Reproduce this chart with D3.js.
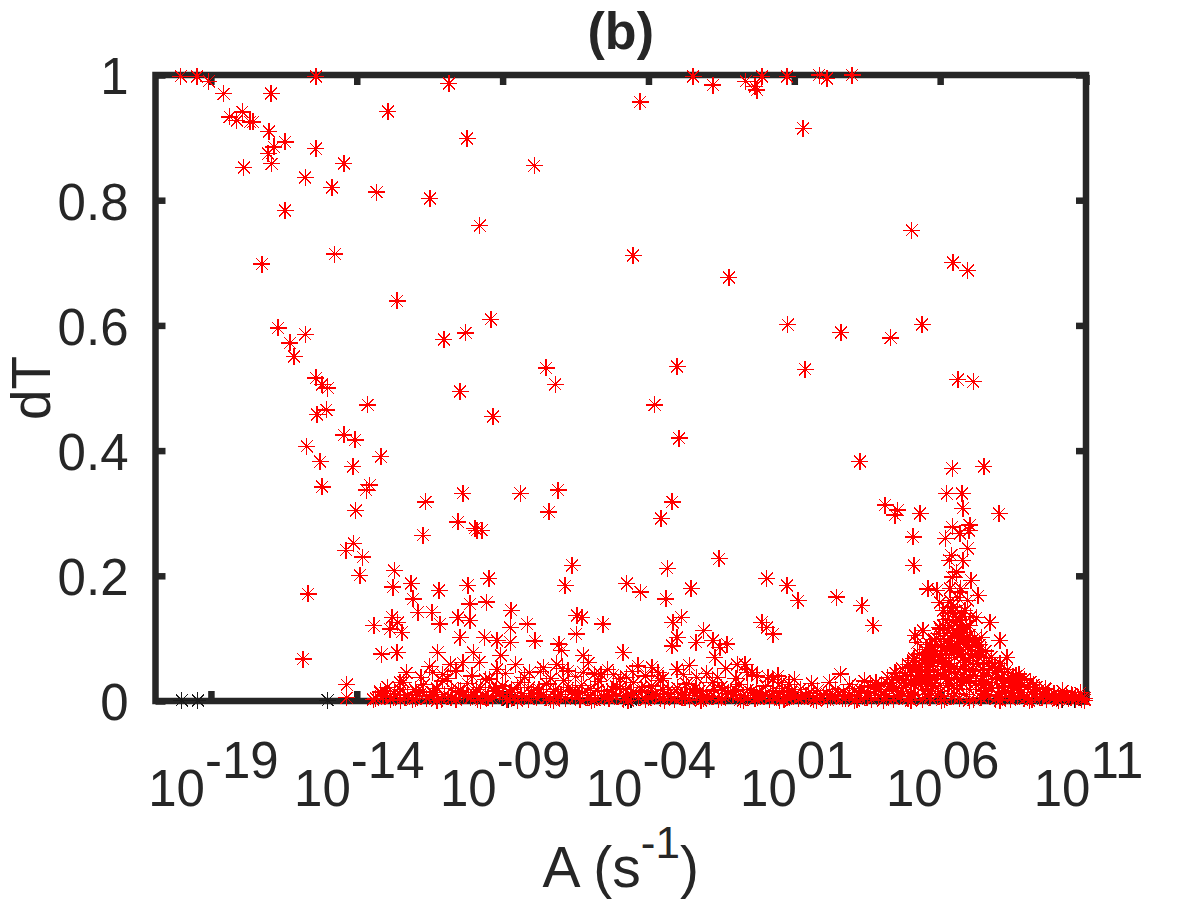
<!DOCTYPE html>
<html>
<head>
<meta charset="utf-8">
<script src="https://cdn.jsdelivr.net/npm/d3@7/dist/d3.min.js"></script>
<style>
  html, body { margin: 0; padding: 0; background: #fff; }
  svg { display: block; }
  text { font-family: "Liberation Sans", Arial, Helvetica, sans-serif; fill: #262626; }
</style>
</head>
<body>
<svg id="chart" width="1200" height="900"></svg>
<script>
// ---------------- DATA (log10 A, dT) ----------------
const xTickExps   = [-19, -14, -9, -4, 1, 6, 11];
const xTickLabels = ["-19", "-14", "-09", "-04", "01", "06", "11"];
const yTicks      = [0, 0.2, 0.4, 0.6, 0.8, 1];
const yTickLabels = ["0", "0.2", "0.4", "0.6", "0.8", "1"];
const xLogMin = -20.9, xLogMax = 11;

const scatterHigh = [
  [-20.03,0.998],[-19.48,0.998],[-19.07,0.990],[-18.56,0.970],[-16.94,0.970],[-15.40,0.998],[-12.93,0.942],
  [-18.35,0.933],[-18.11,0.927],[-17.93,0.941],[-17.66,0.925],[-17.56,0.925],[-17.01,0.910],[-16.46,0.893],
  [-16.84,0.885],[-17.04,0.874],[-16.91,0.858],[-15.40,0.882],[-14.44,0.859],[-17.87,0.852],[-15.77,0.836],
  [-14.85,0.820],[-13.31,0.813],[-16.46,0.784],[-14.75,0.714],[-17.25,0.698],
  [-10.84,0.986],[-2.47,0.998],[-1.79,0.984],[-0.66,0.990],[-0.11,0.998],[-0.35,0.981],[-0.28,0.976],
  [0.75,0.998],[1.85,1.0],[2.12,0.994],[-4.29,0.957],[2.98,1.0],
  [-11.49,0.803],[-10.22,0.899],[-9.78,0.759],[-7.92,0.855],[-4.53,0.712],[-1.24,0.677],[1.30,0.915],
  [0.78,0.601],[5.03,0.752],[6.44,0.701],[6.95,0.688],[-12.62,0.639],[5.38,0.601],[-9.40,0.610]
];
const scatterMid = [
  [1.37,0.530],[2.60,0.589],[4.31,0.580],[6.61,0.513],[7.13,0.510],[3.25,0.383],[7.50,0.375],[6.41,0.372],
  [-16.70,0.596],[-16.29,0.572],[-16.15,0.550],[-15.77,0.586],[-15.40,0.516],[-15.19,0.506],[-14.99,0.500],
  [-15.36,0.458],[-15.05,0.465],[-15.71,0.407],[-15.26,0.382],[-15.19,0.342],[-14.44,0.425],[-14.06,0.417],
  [-14.13,0.374],[-13.62,0.473],[-13.17,0.390],[-13.55,0.345],[-13.68,0.337],[-14.03,0.304],
  [-11.01,0.577],[-10.26,0.588],[-10.46,0.494],[-9.33,0.455],[-7.51,0.532],[-7.20,0.506],[-3.78,0.473],
  [-3.02,0.534],[-2.95,0.420],
  [-11.63,0.318],[-10.36,0.332],[-8.40,0.332],[-7.41,0.302],[-7.10,0.337],[-3.19,0.318],[-3.57,0.292],
  [4.11,0.313],[4.55,0.305],[4.45,0.297],[5.31,0.300],[6.23,0.331],[6.75,0.331],[6.78,0.308],[8.02,0.299]
];
const scatterLow = [
  [-9.95,0.276],[-10.53,0.286],[-1.58,0.227],[0.06,0.196],[0.75,0.184],[1.13,0.160],[2.46,0.166],[3.32,0.152],[3.70,0.120],
  [6.41,0.278],[7.02,0.281],[6.68,0.268],[6.99,0.272],[6.17,0.260],[5.07,0.262],[6.95,0.244],[6.38,0.233],
  [6.31,0.225],[6.78,0.225],[5.10,0.217],[6.55,0.206],[6.41,0.198],[7.06,0.193],[5.58,0.179],[5.89,0.177],
  [6.34,0.180],[6.68,0.174],[7.30,0.168],[6.95,0.161],[5.99,0.157],[6.10,0.145],[7.71,0.125],[8.05,0.097],
  [8.29,0.069],[8.70,0.043],[7.41,0.102],[7.24,0.133],[6.68,0.129],[6.44,0.141],[5.99,0.118],[5.41,0.113],
  [5.14,0.105],[5.21,0.093],[5.55,0.086],[5.07,0.065],[4.45,0.045],[2.57,0.043],
  [-9.88,0.273],[-11.73,0.265],[-14.10,0.252],[-14.37,0.241],[-13.79,0.230],[-13.89,0.201],[-15.67,0.171],
  [-12.72,0.208],[-12.76,0.182],[-12.14,0.188],[-11.18,0.177],[-10.19,0.185],[-9.47,0.196],[-12.07,0.163],
  [-10.12,0.155],[-9.54,0.158],[-11.90,0.142],[-11.42,0.142],[-11.15,0.123],[-12.79,0.134],[-12.59,0.125],
  [-12.86,0.115],[-12.45,0.110],[-13.41,0.120],[-10.53,0.133],[-10.12,0.129],[-10.46,0.102],[-9.61,0.102],
  [-13.14,0.075],[-12.62,0.077],[-11.22,0.078],[-10.01,0.077],[-9.19,0.097],[-15.84,0.067],[-10.80,0.058],
  [-11.39,0.046],[-11.05,0.042],[-10.36,0.061],[-14.34,0.026],[-12.52,0.030],[-14.34,0.005],[-13.20,0.013],[-13.44,0.002],
  [-9.71,0.273],[-6.62,0.217],[-3.36,0.212],[-6.86,0.184],[-4.74,0.188],[-4.26,0.174],[-3.40,0.163],[-2.54,0.180],
  [-8.71,0.145],[-8.16,0.123],[-8.74,0.117],[-6.45,0.137],[-6.28,0.133],[-5.56,0.123],[-6.48,0.107],[-7.89,0.096],
  [-7.07,0.091],[-8.74,0.094],[-6.97,0.081],[-6.24,0.073],[-3.16,0.126],[-2.88,0.134],[-3.02,0.101],[-3.19,0.088],
  [-2.10,0.112],[-2.37,0.094],[-1.79,0.097],[-1.55,0.086],[-1.31,0.091],[-1.72,0.070],[-0.11,0.126],[0.06,0.117],
  [0.27,0.107],[-4.87,0.077],[-4.36,0.056],[-3.88,0.054],[-3.67,0.045],[-9.06,0.073],[-9.19,0.050],[-0.96,0.058],
  [-0.69,0.058],[-0.62,0.045],[0.44,0.040],[0.27,0.034],[0.82,0.026],[-6.76,0.048],[-7.14,0.058],[-6.24,0.046],
  [-5.63,0.042],[-5.21,0.042],[-4.74,0.038],[-8.09,0.045],[-7.61,0.053],[-3.02,0.050],[-2.81,0.042],[-2.34,0.038],
  [-1.62,0.038],[-0.28,0.040]
];
const bandRowA = [
  [-13.35,0.004],[-13.1,0.008],[-12.85,0.003],[-12.6,0.010],[-12.35,0.005],[-12.1,0.002],[-11.85,0.009],[-11.6,0.004],
  [-11.35,0.011],[-11.1,0.003],[-10.85,0.007],[-10.6,0.002],[-10.35,0.010],[-10.1,0.005],[-9.85,0.003],[-9.6,0.008],
  [-9.35,0.004],[-9.1,0.012],[-8.85,0.002],[-8.6,0.006],[-8.35,0.009],[-8.1,0.003],[-7.85,0.005],[-7.6,0.011],
  [-7.35,0.002],[-7.1,0.007],[-6.85,0.004],[-6.6,0.010],[-6.35,0.003],[-6.1,0.006],[-5.85,0.002],[-5.6,0.009],
  [-5.35,0.004],[-5.1,0.007],[-4.85,0.003],[-4.6,0.011],[-4.35,0.005],[-4.1,0.002],[-3.85,0.008],[-3.6,0.004],
  [-3.35,0.010],[-3.1,0.003],[-2.85,0.006],[-2.6,0.002],[-2.35,0.009],[-2.1,0.004],[-1.85,0.007],[-1.6,0.003],
  [-1.35,0.005],[-1.1,0.010],[-0.85,0.002],[-0.6,0.006],[-0.35,0.004],[-0.1,0.008],[0.15,0.003],[0.4,0.005],
  [0.65,0.002],[0.9,0.007],[1.15,0.004],[1.4,0.009],[1.65,0.003],[1.9,0.006],[2.15,0.002],[2.4,0.008],
  [2.65,0.004],[2.9,0.010],[3.15,0.003],[3.4,0.006],[3.65,0.002],[3.9,0.009],[4.15,0.005],[4.4,0.003],
  [4.65,0.008],[4.9,0.004],[5.15,0.011],[5.4,0.002],[5.65,0.006],[5.9,0.009],[6.15,0.003],[6.4,0.007],
  [6.65,0.004],[6.9,0.010],[7.15,0.002],[7.4,0.006],[7.65,0.008],[7.9,0.003],[8.15,0.005],[8.4,0.002],
  [8.65,0.007],[8.9,0.004],[9.15,0.003],[9.4,0.006],[9.65,0.002],[9.9,0.005],[10.15,0.003],[10.4,0.004],
  [10.65,0.002],[10.85,0.003]
];
const bandRowB = [
  [-12.95,0.022],[-12.7,0.015],[-12.4,0.030],[-12.0,0.018],[-11.7,0.026],[-11.4,0.014],[-11.05,0.032],[-10.75,0.020],
  [-10.45,0.016],[-10.2,0.028],[-9.9,0.019],[-9.6,0.034],[-9.3,0.015],[-9.0,0.024],[-8.7,0.018],[-8.4,0.030],
  [-8.1,0.021],[-7.8,0.014],[-7.5,0.027],[-7.2,0.019],[-6.9,0.033],[-6.6,0.016],[-6.3,0.025],[-6.0,0.020],
  [-5.7,0.031],[-5.4,0.015],[-5.1,0.023],[-4.8,0.018],[-4.5,0.029],[-4.2,0.016],[-3.9,0.024],[-3.6,0.033],
  [-3.3,0.019],[-3.0,0.014],[-2.7,0.027],[-2.4,0.020],[-2.1,0.016],[-1.8,0.030],[-1.5,0.022],[-1.2,0.015],
  [-0.9,0.026],[-0.6,0.018],[-0.3,0.013],[0.0,0.024],[0.3,0.016],[0.6,0.020],[0.9,0.014],[1.2,0.019],
  [1.5,0.013],[1.8,0.017],[2.1,0.012],[2.4,0.018],[2.7,0.014],[3.0,0.020],[3.3,0.016],[3.6,0.024],
  [3.9,0.018],[4.2,0.028],[4.5,0.021],[4.8,0.033],[5.1,0.026],[5.4,0.038],[5.7,0.030],[6.0,0.042],
  [6.3,0.035],[6.6,0.045],[6.9,0.032],[7.2,0.040],[7.5,0.027],[7.8,0.034],[8.1,0.022],[8.4,0.028],
  [8.7,0.018],[9.0,0.023],[9.3,0.015],[9.6,0.019],[9.9,0.012],[10.2,0.016],[10.5,0.011],[10.8,0.013]
];
const bandRowC = [
  [-13.2,0.015],[-12.5,0.001],[-11.95,0.014],[-11.25,0.001],[-10.5,0.013],[-9.75,0.001],[-9.2,0.020],[-8.5,0.001],
  [-7.95,0.017],[-7.25,0.001],[-6.5,0.014],[-5.95,0.001],[-5.25,0.018],[-4.7,0.001],[-4.0,0.015],[-3.45,0.001],
  [-2.75,0.013],[-2.2,0.001],[-1.45,0.017],[-0.75,0.001],[-0.2,0.012],[0.5,0.001],[1.05,0.011],[1.75,0.001],
  [2.3,0.010],[3.05,0.001],[3.5,0.012],[4.05,0.001],[4.5,0.015],[5.0,0.001],[5.5,0.018],[6.05,0.001],
  [6.55,0.020],[7.0,0.001],[7.55,0.016],[8.05,0.001],[8.55,0.012],[9.05,0.001],[9.55,0.010],[10.05,0.001],
  [10.55,0.008],[10.95,0.001]
];
const bandRowD = [
  [-12.3,0.045],[-11.8,0.038],[-11.5,0.055],[-10.9,0.036],[-10.6,0.048],[-10.05,0.040],[-9.8,0.062],[-9.45,0.035],
  [-8.9,0.044],[-8.55,0.058],[-8.25,0.038],[-7.7,0.047],[-7.35,0.036],[-6.95,0.052],[-6.5,0.039],[-6.05,0.061],
  [-5.85,0.043],[-5.4,0.050],[-4.95,0.036],[-4.55,0.047],[-4.1,0.040],[-3.5,0.036],[-2.6,0.057],[-2.0,0.044],
  [-1.35,0.052],[-1.0,0.036],[-0.45,0.046],[0.1,0.038],[0.55,0.030],[1.0,0.034],[1.6,0.028],[2.2,0.030],
  [2.9,0.026],[3.4,0.032]
];
const bandRowE = [
  [-13.0,0.012],[-12.75,0.006],[-12.5,0.018],[-12.25,0.009],[-12.0,0.004],[-11.75,0.015],[-11.5,0.007],[-11.25,0.020],
  [-11.0,0.010],[-10.75,0.005],[-10.5,0.017],[-10.25,0.008],[-10.0,0.013],[-9.75,0.021],[-9.5,0.006],[-9.25,0.016],
  [-9.0,0.009],[-8.75,0.014],[-8.5,0.022],[-8.25,0.007],[-8.0,0.012],[-7.75,0.019],[-7.5,0.005],[-7.25,0.015],
  [-7.0,0.010],[-6.75,0.021],[-6.5,0.006],[-6.25,0.013],[-6.0,0.009],[-5.75,0.017],[-5.5,0.005],[-5.25,0.011],
  [-5.0,0.020],[-4.75,0.008],[-4.5,0.014],[-4.25,0.022],[-4.0,0.006],[-3.75,0.012],[-3.5,0.018],[-3.25,0.007],
  [-3.0,0.021],[-2.75,0.005],[-2.5,0.013],[-2.25,0.016],[-2.0,0.008],[-1.75,0.019],[-1.5,0.006],[-1.25,0.012],
  [-1.0,0.017],[-0.75,0.009],[-0.5,0.014],[-0.25,0.006],[0.0,0.011],[0.25,0.008],[0.5,0.013],[0.75,0.005],
  [1.0,0.010],[1.25,0.007],[1.5,0.012],[1.75,0.005],[2.0,0.009],[2.25,0.006],[2.5,0.011],[2.75,0.004],
  [3.0,0.009],[3.25,0.013],[3.5,0.006],[3.75,0.015],[4.0,0.010],[4.25,0.018],[4.5,0.008],[4.75,0.022],
  [5.0,0.012],[5.25,0.026],[5.5,0.010],[5.75,0.024],[6.0,0.015],[6.25,0.028],[6.5,0.012],[6.75,0.030],
  [7.0,0.018],[7.25,0.025],[7.5,0.012],[7.75,0.020],[8.0,0.010],[8.25,0.016],[8.5,0.008],[8.75,0.013],
  [9.0,0.006],[9.25,0.010],[9.5,0.005],[9.75,0.008],[10.0,0.004],[10.25,0.007],[10.5,0.005],[10.75,0.006],[10.95,0.004]
];
const moundPts = [
  [3.6,0.022],[3.8,0.030],[4.0,0.026],[4.2,0.038],[4.35,0.030],[4.5,0.044],[4.6,0.035],[4.7,0.052],[4.8,0.040],
  [4.9,0.058],[5.0,0.046],[5.1,0.068],[5.2,0.054],[5.25,0.040],[5.3,0.075],[5.4,0.062],[5.45,0.048],[5.5,0.082],
  [5.55,0.066],[5.6,0.055],[5.65,0.090],[5.7,0.072],[5.75,0.060],[5.8,0.098],[5.85,0.080],[5.9,0.064],[5.95,0.108],
  [6.0,0.088],[6.05,0.070],[6.1,0.120],[6.15,0.095],[6.2,0.076],[6.25,0.112],[6.3,0.060],[6.35,0.100],[6.4,0.085],
  [6.45,0.125],[6.5,0.070],[6.55,0.108],[6.6,0.090],[6.65,0.130],[6.7,0.075],[6.75,0.115],[6.8,0.095],[6.85,0.062],
  [6.9,0.120],[6.95,0.085],[7.0,0.105],[7.05,0.070],[7.1,0.098],[7.15,0.058],[7.2,0.088],[7.3,0.072],[7.4,0.080],
  [7.5,0.062],[7.6,0.070],[7.7,0.052],[7.8,0.060],[7.9,0.045],[8.0,0.052],[8.1,0.038],[8.2,0.045],[8.35,0.032],
  [8.5,0.038],[8.65,0.026],[8.8,0.030],[9.0,0.022],[9.2,0.026],[9.4,0.018],[9.6,0.020],[6.0,0.040],[6.2,0.035],
  [6.4,0.045],[6.6,0.038],[6.8,0.042],[7.0,0.036],[5.8,0.035],[5.6,0.030],[5.4,0.028],[7.2,0.040],[7.4,0.032],
  [7.6,0.030],[6.5,0.055],[6.3,0.050],[6.7,0.052],[6.1,0.055],[6.9,0.050],[5.9,0.045],[7.1,0.048],[5.2,0.032],
  [6.45,0.150],[6.6,0.165],[6.85,0.145],[6.25,0.140],[7.05,0.135],[6.7,0.180],[6.35,0.160]
];
const moundExtra = [
  [5.0,0.030],[5.15,0.050],[5.3,0.040],[5.35,0.058],[5.5,0.045],[5.62,0.070],[5.72,0.085],[5.78,0.050],[5.88,0.100],
  [5.92,0.075],[6.02,0.115],[6.08,0.065],[6.12,0.100],[6.18,0.130],[6.22,0.085],[6.28,0.092],[6.33,0.120],[6.38,0.075],
  [6.42,0.105],[6.48,0.090],[6.52,0.135],[6.58,0.080],[6.62,0.110],[6.68,0.095],[6.72,0.140],[6.78,0.070],[6.82,0.110],
  [6.88,0.090],[6.92,0.100],[6.98,0.065],[7.02,0.120],[7.08,0.085],[7.12,0.075],[7.18,0.100],[7.25,0.060],[7.35,0.090],
  [7.45,0.050],[7.55,0.080],[7.65,0.045],[7.75,0.070],[7.85,0.055],[7.95,0.035],[8.05,0.060],[8.15,0.028],[8.3,0.050],
  [8.45,0.024],[8.6,0.040],[8.9,0.035],[9.1,0.030],[9.3,0.022],[6.0,0.025],[6.3,0.028],[6.6,0.025],[6.9,0.030],
  [7.2,0.028],[7.5,0.040],[5.7,0.020],[4.4,0.020],[4.85,0.025]
];
const blackPts = [
  [-20.0,0.001],[-19.45,0.001],[-15.0,0.001],[-8.8,0.002],[-4.6,0.002],[10.2,0.002],[10.6,0.002]
];

// ---------------- CHART ----------------
const svg = d3.select("#chart");
const ink = "#262626";
const L = 155.5, R = 1086, T = 75, B = 701;

const x = d3.scaleLog().domain([Math.pow(10, xLogMin), Math.pow(10, xLogMax)]).range([L, R]);
const y = d3.scaleLinear().domain([0, 1]).range([B, T]);
const xTickVals = xTickExps.map(e => Math.pow(10, e));

svg.append("rect")
  .attr("x", L).attr("y", T).attr("width", R - L).attr("height", B - T)
  .attr("fill", "none").attr("stroke", ink).attr("stroke-width", 6.5);

function styleAxis(g) {
  g.select(".domain").remove();
  g.selectAll(".tick line").attr("stroke", ink).attr("stroke-width", 6.5);
}

const gLeft = svg.append("g").attr("transform", `translate(${L},0)`)
  .call(d3.axisLeft(y).tickValues(yTicks).tickSize(-10).tickSizeOuter(0).tickPadding(27)
    .tickFormat((d, i) => yTickLabels[i]));
styleAxis(gLeft);
gLeft.selectAll(".tick text").attr("font-size", 51).attr("fill", ink).attr("dy", "0.37em")
  .style("font-family", '"Liberation Sans", Arial, sans-serif');

const gRight = svg.append("g").attr("transform", `translate(${R},0)`)
  .call(d3.axisRight(y).tickValues(yTicks).tickSize(-10).tickSizeOuter(0).tickFormat(""));
styleAxis(gRight);

const gTop = svg.append("g").attr("transform", `translate(0,${T})`)
  .call(d3.axisTop(x).tickValues(xTickVals).tickSize(-10).tickSizeOuter(0).tickFormat(""));
styleAxis(gTop);

const gBottom = svg.append("g").attr("transform", `translate(0,${B})`)
  .call(d3.axisBottom(x).tickValues(xTickVals).tickSize(-10).tickSizeOuter(0).tickFormat(""));
styleAxis(gBottom);
gBottom.selectAll(".tick text").remove();
gBottom.selectAll(".tick").each(function(d, i) {
  const t = d3.select(this).append("text")
    .attr("x", 2).attr("y", 105)
    .attr("text-anchor", "middle")
    .attr("font-size", 51).attr("fill", ink)
    .style("font-family", '"Liberation Sans", Arial, sans-serif');
  t.append("tspan").text("10");
  t.append("tspan").attr("dy", -28).text(xTickLabels[i]);
});

const star = "M-8.5,0H8.5M0,-8.5V8.5M-6,-6L6,6M-6,6L6,-6";
function drawSeries(data, color) {
  svg.append("g").selectAll("path").data(data).join("path")
    .attr("d", star)
    .attr("transform", d => `translate(${x(Math.pow(10, d[0]))},${y(d[1])})`)
    .attr("fill", "none").attr("stroke", color).attr("stroke-width", 1.2)
    .attr("shape-rendering", "crispEdges");
}
drawSeries(blackPts, "#1a1a1a");
const redPts = [].concat(bandRowA, bandRowE, bandRowC, bandRowB, bandRowD, moundPts, moundExtra,
                         scatterLow, scatterMid, scatterHigh);
drawSeries(redPts, "#ff0000");

svg.append("text").attr("x", (L + R) / 2).attr("y", 49)
  .attr("text-anchor", "middle").attr("font-size", 52).attr("font-weight", "bold")
  .attr("fill", "#000").text("(b)");

const xl = svg.append("text").attr("x", (L + R) / 2).attr("y", 887)
  .attr("text-anchor", "middle").attr("font-size", 57).attr("fill", ink);
xl.append("tspan").text("A (s");
xl.append("tspan").attr("dy", -29).attr("font-size", 44).text("-1");
xl.append("tspan").attr("dy", 29).text(")");

svg.append("text")
  .attr("transform", `translate(50,${(T + B) / 2}) rotate(-90)`)
  .attr("text-anchor", "middle").attr("font-size", 55).attr("fill", ink)
  .text("dT");
</script>
</body>
</html>
